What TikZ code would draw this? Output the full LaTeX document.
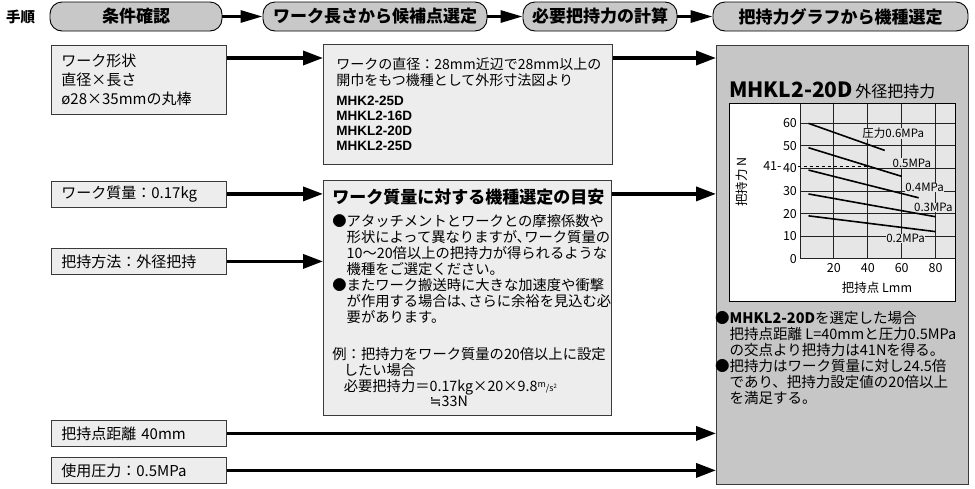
\documentclass[tikz,border=0pt]{standalone}
\usepackage{fontspec}
\setmainfont{Noto Sans CJK JP}
\newfontfamily\symfont{DejaVu Sans}
\newfontfamily\latinfont{Liberation Sans}
\usetikzlibrary{arrows.meta}

\begin{document}
\begin{tikzpicture}[x = 1pt, y = -1pt,
  stage/.style = {draw = black, fill = pillgray, line width = 0.9pt, rounded corners = 12pt, minimum height = 29pt, inner sep = 0pt, font = \fontsize{17}{20}\selectfont\bfseries},
  cond/.style = {draw = boxline, fill = boxgray, line width = 0.8pt, anchor = north west, minimum width = 175pt, text width = 155pt, inner xsep = 10pt, inner ysep = 0pt, align = left, font = \fontsize{15}{19}\selectfont},
  infobox/.style = {draw = boxline, fill = boxgray, line width = 0.8pt, anchor = north west, inner ysep = 0pt, align = left},
  hflow/.style = {line width = 3pt, -{Triangle[length = 22pt, width = 12pt]}},
  flow/.style = {line width = 3.5pt, -{Triangle[length = 20pt, width = 14pt]}},
  grid/.style = {draw = gridline, line width = 0.9pt},
  curve/.style = {line width = 1.6pt},
  tick/.style = {inner sep = 0pt, font = \fontsize{12.5}{14}\selectfont},
  plab/.style = {fill = plotgray, inner sep = 0.5pt, font = \fontsize{11.5}{13}\selectfont}]
\definecolor{pillgray}{HTML}{C8C8C8}
\definecolor{boxgray}{HTML}{EDEDED}
\definecolor{boxline}{HTML}{3A3A3A}
\definecolor{panelgray}{HTML}{C6C6C6}
\definecolor{plotgray}{HTML}{E6E6E6}
\definecolor{gridline}{HTML}{222222}
\useasboundingbox (0,0) rectangle (975,488);

\node[inner sep = 0pt, font = \fontsize{14.5}{16}\selectfont\bfseries] (hdr) at (20.5,16.5) {手順};
\node[stage, minimum width = 172pt] (s1) at (136,16.5) {条件確認};
\node[stage, minimum width = 224pt] (s2) at (375,16.5) {ワーク長さから候補点選定};
\node[stage, minimum width = 154pt] (s3) at (600,16.5) {必要把持力の計算};
\node[stage, minimum width = 255pt] (s4) at (840.5,16.5) {把持力グラフから機種選定};
\foreach \a/\b in {s1/s2,s2/s3,s3/s4} \draw[hflow] (\a) -- (\b);

\node[cond, minimum height = 69pt] (wshape) at (51,45) {ワーク形状\\直径×長さ\\ø28×35mmの丸棒};
\node[cond, minimum height = 26pt] (wmass) at (51,180.5) {ワーク質量：0.17kg};
\node[cond, minimum height = 26pt] (grip) at (51,248) {把持方法：外径把持};
\node[cond, minimum height = 26pt] (gdist) at (51,420) {把持点距離 40mm};
\node[cond, minimum height = 26pt] (gpress) at (51,457) {使用圧力：0.5MPa};

\node[infobox, minimum width = 289pt, minimum height = 120pt, text width = 263pt, inner xsep = 13pt, font = \fontsize{14}{16}\selectfont] (dia) at (323,44) {ワークの直径：28mm近辺で28mm以上の\\開巾をもつ機種として外形寸法図より\\[4pt]
{\latinfont\fontsize{13.5}{15}\selectfont\bfseries MHK2-25D}\\[-1pt]
{\latinfont\fontsize{13.5}{15}\selectfont\bfseries MHKL2-16D}\\[-1pt]
{\latinfont\fontsize{13.5}{15}\selectfont\bfseries MHKL2-20D}\\[-1pt]
{\latinfont\fontsize{13.5}{15}\selectfont\bfseries MHKL2-25D}};

\node[infobox, minimum width = 288pt, minimum height = 235pt, text width = 270pt, inner xsep = 9pt, font = \fontsize{14.3}{16}\selectfont] (guide) at (323,180) {{\fontsize{17}{20}\selectfont\bfseries ワーク質量に対する機種選定の目安}\\[7pt]
●アタッチメントとワークとの摩擦係数や\\
\hphantom{●}形状によって異なりますが､ワーク質量の\\
\hphantom{●}10〜20倍以上の把持力が得られるような\\
\hphantom{●}機種をご選定ください。\\
●またワーク搬送時に大きな加速度や衝撃\\
\hphantom{●}が作用する場合は､さらに余裕を見込む必\\
\hphantom{●}要があります。\\[21pt]
例：把持力をワーク質量の20倍以上に設定\\
\hspace*{0.8em}したい場合\\
\hspace*{0.8em}必要把持力＝0.17kg×20×9.8{\fontsize{9}{9}\selectfont\raisebox{4pt}{m}/s\raisebox{3pt}{\fontsize{6}{6}\selectfont 2}}\\[-1pt]
\hspace*{0.8em}\hphantom{必要把持力＝}{\symfont ≒}33N};

\node[draw = boxline, fill = panelgray, line width = 0.8pt, anchor = north west, minimum width = 252pt, minimum height = 439pt, inner sep = 0pt] (panel) at (716,45) {};

\coordinate (a1) at ([yshift = -13pt]wshape.north east);
\draw[flow] (a1) -- (a1 -| dia.west);
\draw[flow] (a1 -| dia.east) -- (a1 -| panel.west);
\draw[flow] (wmass.east) -- (wmass.east -| guide.west);
\draw[flow] (grip.east) -- (grip.east -| guide.west);
\draw[flow] (wmass.east -| guide.east) -- (wmass.east -| panel.west);
\draw[flow] (gdist.east) -- (gdist.east -| panel.west);
\draw[flow] (gpress.east) -- (gpress.east -| panel.west);

\node[anchor = base west, inner sep = 0pt] (gtitle) at (729,97) {{\fontsize{21}{21}\selectfont\bfseries MHKL2-20D} {\fontsize{16}{16}\selectfont 外径把持力}};
\fill[white] (729,103) rectangle (955,301);
\begin{scope}[shift = {(800,258.7)}, x = 1.695pt, y = 2.256pt]
\fill[plotgray] (0,0) rectangle (91.4,69);
\foreach \v in {10,20,...,60} \draw[grid] (0,\v) -- (91.4,\v);
\foreach \u in {20,40,...,80} \draw[grid] (\u,0) -- (\u,69);
\draw[grid] (0,69) -- (0,0) -- (91.4,0);
\foreach \v in {0,10,...,60} \node[tick, anchor = east] (y\v) at (-1.7,\v) {\v};
\foreach \u in {20,40,...,80} \node[tick] (x\u) at (\u,-4.3) {\u};
\node[tick, anchor = east] (y41) at (-10.8,41) {41-};
\draw[dashed, line width = 0.6pt] (-1.2,41) -- (42,41);
\foreach \a/\b/\c/\d in {5/60/50/48, 5/49.2/60/36.5, 5/39.3/70/27, 5/28.7/80/18.6, 5/19/80/12} \draw[curve] (\a,\b) -- (\c,\d);
\node[plab] (p6) at (55,55.5) {圧力0.6MPa};
\node[plab] (p5) at (66,42.3) {0.5MPa};
\node[plab] (p4) at (73.5,31.6) {0.4MPa};
\node[plab] (p3) at (78.7,22.7) {0.3MPa};
\node[plab] (p2) at (62.3,9) {0.2MPa};
\end{scope}
\draw[black, line width = 0.9pt] (729,103) rectangle (955,301);
\node[tick, rotate = 90] (ylab) at (742,182) {把持力 N};
\node[tick] (xlab) at (877,288) {把持点 Lmm};

\node[anchor = north west, inner sep = 0pt, align = left, font = \fontsize{14.5}{16}\selectfont] (note) at (715,311) {●{\bfseries MHKL2-20D}を選定した場合\\
\hphantom{●}把持点距離~L=40mmと圧力0.5MPa\\
\hphantom{●}の交点より把持力は41Nを得る。\\
●把持力はワーク質量に対し24.5倍\\
\hphantom{●}であり、把持力設定値の20倍以上\\
\hphantom{●}を満足する。};
\end{tikzpicture}
\end{document}
